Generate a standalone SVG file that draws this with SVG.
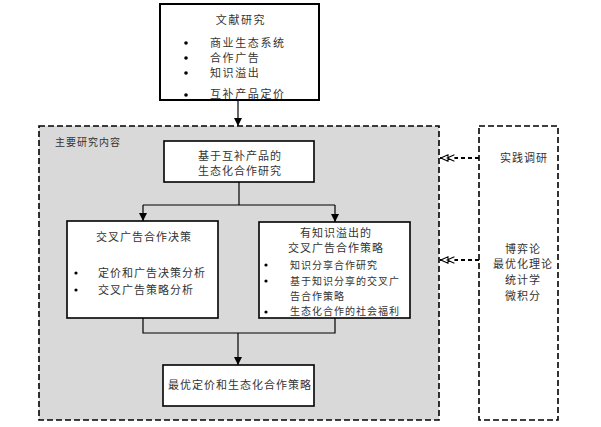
<svg xmlns="http://www.w3.org/2000/svg" width="601" height="427" viewBox="0 0 601 427">
<style>
text{font-family:"Noto Sans CJK SC","Liberation Sans",sans-serif;font-size:11px;fill:#333;letter-spacing:1px}
.box{fill:#fff;stroke:#000;stroke-width:1.6}
.dash{stroke:#000;stroke-width:1.6;stroke-dasharray:6,3}
.ln{fill:none;stroke:#000;stroke-width:1.2}
.dl{fill:none;stroke:#000;stroke-width:1.8;stroke-dasharray:4,3}
.c{text-anchor:middle}
.w{letter-spacing:1.6px}
</style>
<defs>
<marker id="ah" viewBox="0 0 10 10" refX="10" refY="5" markerWidth="8" markerHeight="8" markerUnits="userSpaceOnUse" orient="auto">
<path d="M0,0 L10,5 L0,10 z" fill="#000"/>
</marker>
<marker id="dh" viewBox="0 0 20 10" refX="20" refY="5" markerWidth="16" markerHeight="8" markerUnits="userSpaceOnUse" orient="auto">
<path d="M10,1 L19,5 L10,9 z M2,1 L11,5 L2,9" fill="#fff" stroke="#000" stroke-width="1.3"/>
</marker>
</defs>
<g id="main">
<rect x="39" y="126" width="400" height="294" fill="#d9d9d9" class="dash"/>
<text x="55" y="146" style="font-size:10px">主要研究内容</text>
</g>
<g id="methods">
<rect x="479" y="126" width="79" height="294" fill="#fff" class="dash"/>
<text x="524" y="162" class="c">实践调研</text>
<text x="523" y="253" class="c">博弈论</text>
<text x="523" y="268" class="c">最优化理论</text>
<text x="523" y="284" class="c">统计学</text>
<text x="523" y="300" class="c">微积分</text>
</g>
<g id="literature">
<rect x="160" y="4" width="159" height="96" class="box" style="stroke-width:2"/>
<text x="241" y="24" class="c w">文献研究</text>
<circle cx="186" cy="43" r="1.8" fill="#000"/>
<text x="210" y="47" class="w">商业生态系统</text>
<circle cx="186" cy="58" r="1.8" fill="#000"/>
<text x="210" y="62" class="w">合作广告</text>
<circle cx="186" cy="73" r="1.8" fill="#000"/>
<text x="210" y="77" class="w">知识溢出</text>
<circle cx="186" cy="95" r="1.8" fill="#000"/>
<text x="210" y="98" class="w">互补产品定价</text>
</g>
<g id="eco">
<rect x="164" y="141" width="150" height="41" class="box"/>
<text x="240" y="160" class="c">基于互补产品的</text>
<text x="240" y="175" class="c">生态化合作研究</text>
</g>
<g id="cross">
<rect x="67" y="221" width="151" height="97" class="box"/>
<text x="144" y="241" class="c">交叉广告合作决策</text>
<circle cx="76" cy="273" r="1.6" fill="#000"/>
<text x="98" y="277">定价和广告决策分析</text>
<circle cx="76" cy="290" r="1.6" fill="#000"/>
<text x="98" y="294">交叉广告策略分析</text>
</g>
<g id="spill">
<rect x="259" y="222" width="151" height="96" class="box"/>
<text x="336" y="237" class="c">有知识溢出的</text>
<text x="336" y="252" class="c">交叉广告合作策略</text>
<circle cx="266" cy="265" r="1.6" fill="#000"/>
<text x="290" y="269" style="font-size:10px">知识分享合作研究</text>
<circle cx="266" cy="281" r="1.6" fill="#000"/>
<text x="290" y="285" style="font-size:10px">基于知识分享的交叉广</text>
<text x="290" y="300" style="font-size:10px">告合作策略</text>
<circle cx="266" cy="312" r="1.6" fill="#000"/>
<text x="290" y="315" style="font-size:10px">生态化合作的社会福利</text>
</g>
<g id="optimal">
<rect x="163" y="365" width="151" height="41" class="box"/>
<text x="240" y="389" class="c">最优定价和生态化合作策略</text>
</g>
<g id="connectors">
<path d="M238,100 V126" class="ln" marker-end="url(#ah)"/>
<path d="M239,182 V205" class="ln"/>
<path d="M143,205 H335" class="ln"/>
<path d="M143,205 V221" class="ln" marker-end="url(#ah)"/>
<path d="M335,205 V222" class="ln" marker-end="url(#ah)"/>
<path d="M143,318 V333 H335 V318" class="ln"/>
<path d="M238,333 V365" class="ln" marker-end="url(#ah)"/>
<path d="M479,158 H440" class="dl" marker-end="url(#dh)"/>
<path d="M479,260 H440" class="dl" marker-end="url(#dh)"/>
</g>
</svg>
